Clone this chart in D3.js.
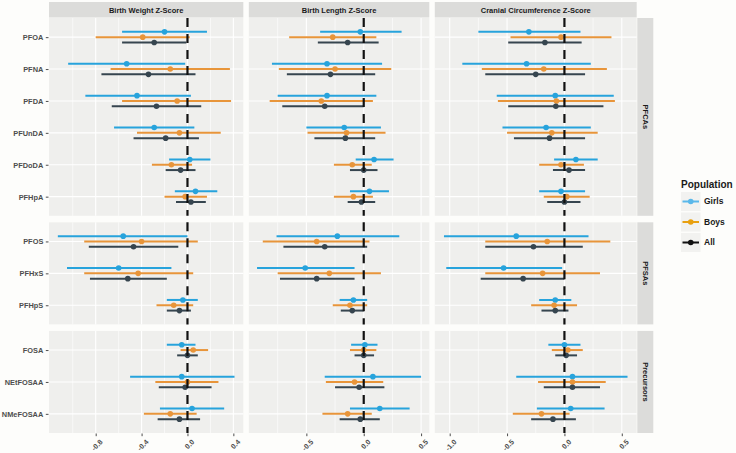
<!DOCTYPE html>
<html lang="en">
<head>
<meta charset="utf-8"/>
<script src="https://cdn.jsdelivr.net/npm/d3@7"></script>
<style>
  body { margin: 0; background: #fdfdfb; }
  text { font-family: "Liberation Sans", Arial, sans-serif; }
</style>
</head>
<body>
<div id="chart"></div>
<script>
// facets
var outcomes = ["Birth Weight Z-Score", "Birth Length Z-Score", "Cranial Circumference Z-Score"];
var groups = ["PFCAs", "PFSAs", "Precursors"];
var pfcas = ["PFOA", "PFNA", "PFDA", "PFUnDA", "PFDoDA", "PFHpA"];
var pfsas = ["PFOS", "PFHxS", "PFHpS"];
var precursors = ["FOSA", "NEtFOSAA", "NMeFOSAA"];
var compounds = pfcas.concat(pfsas, precursors);
var populations = ["Girls", "Boys", "All"];

// tick labels per outcome panel
var weightTicks = [-0.8, -0.4, 0.0, 0.4];
var lengthTicks = [-0.5, 0.0, 0.5];
var cranialTicks = [-1.0, -0.5, 0.0, 0.5];

// [estimate, lower, upper] per compound, in compound order
var weightGirls = [[-0.20,-0.57,0.17],[-0.53,-1.04,-0.02],[-0.44,-0.89,0.03],[-0.29,-0.64,0.06],[0.02,-0.16,0.20],[0.07,-0.11,0.26],
                   [-0.56,-1.13,0.00],[-0.60,-1.05,-0.14],[-0.04,-0.18,0.09],[-0.05,-0.18,0.07],[-0.05,-0.50,0.41],[0.04,-0.24,0.32]];
var weightBoys  = [[-0.39,-0.80,0.02],[-0.15,-0.67,0.37],[-0.09,-0.57,0.38],[-0.07,-0.44,0.29],[-0.14,-0.31,0.04],[-0.02,-0.20,0.17],
                   [-0.40,-0.90,0.09],[-0.43,-0.90,0.05],[-0.12,-0.27,0.05],[0.05,-0.06,0.18],[0.00,-0.28,0.27],[-0.15,-0.38,0.08]];
var weightAll   = [[-0.29,-0.57,-0.01],[-0.34,-0.75,0.07],[-0.27,-0.66,0.12],[-0.19,-0.47,0.10],[-0.06,-0.19,0.07],[0.03,-0.10,0.16],
                   [-0.47,-0.86,-0.08],[-0.52,-0.85,-0.18],[-0.07,-0.18,0.03],[0.00,-0.09,0.09],[-0.02,-0.25,0.21],[-0.07,-0.26,0.11]];

var lengthGirls = [[-0.03,-0.38,0.33],[-0.32,-0.80,0.16],[-0.32,-0.75,0.11],[-0.17,-0.50,0.15],[0.09,-0.07,0.26],[0.05,-0.12,0.22],
                   [-0.23,-0.76,0.31],[-0.51,-0.93,-0.08],[-0.09,-0.21,0.03],[0.01,-0.11,0.12],[0.08,-0.34,0.50],[0.14,-0.12,0.40]];
var lengthBoys  = [[-0.27,-0.65,0.11],[-0.25,-0.74,0.24],[-0.37,-0.82,0.08],[-0.15,-0.49,0.19],[-0.10,-0.26,0.07],[-0.09,-0.26,0.08],
                   [-0.41,-0.88,0.05],[-0.30,-0.75,0.15],[-0.12,-0.27,0.03],[0.00,-0.12,0.11],[-0.08,-0.33,0.17],[-0.14,-0.36,0.07]];
var lengthAll   = [[-0.14,-0.40,0.13],[-0.29,-0.67,0.10],[-0.34,-0.71,0.00],[-0.16,-0.43,0.10],[0.00,-0.12,0.12],[-0.02,-0.14,0.10],
                   [-0.34,-0.70,0.03],[-0.41,-0.73,-0.08],[-0.10,-0.20,0.00],[0.00,-0.08,0.09],[-0.04,-0.25,0.18],[-0.03,-0.21,0.14]];

var cranialGirls = [[-0.31,-0.75,0.14],[-0.33,-0.89,0.23],[-0.08,-0.59,0.43],[-0.16,-0.54,0.23],[0.10,-0.09,0.29],[-0.03,-0.22,0.18],
                    [-0.42,-1.05,0.21],[-0.53,-1.03,-0.02],[-0.08,-0.22,0.06],[0.00,-0.14,0.14],[0.07,-0.42,0.55],[0.055,-0.24,0.35]];
var cranialBoys  = [[-0.03,-0.47,0.41],[-0.18,-0.72,0.37],[-0.07,-0.58,0.44],[-0.11,-0.50,0.29],[-0.03,-0.22,0.17],[0.02,-0.18,0.22],
                    [-0.15,-0.69,0.40],[-0.19,-0.69,0.31],[-0.09,-0.29,0.11],[0.03,-0.11,0.16],[0.07,-0.23,0.36],[-0.20,-0.45,0.045]];
var cranialAll   = [[-0.17,-0.49,0.15],[-0.25,-0.69,0.18],[-0.075,-0.49,0.34],[-0.13,-0.44,0.18],[0.04,-0.10,0.18],[0.00,-0.15,0.14],
                    [-0.27,-0.69,0.16],[-0.36,-0.73,0.00],[-0.08,-0.20,0.035],[0.015,-0.08,0.11],[0.07,-0.18,0.31],[-0.10,-0.29,0.10]];

// colours
var lineColour = {Girls: "#27a3dc", Boys: "#e8953a", All: "#36454f"};
var keyColour = {Girls: "#5ab8ea", Boys: "#e8a010", All: "#111111"};

var w = 736, h = 453;
var plotLeft = 49, plotRight = 636.7, plotTop = 18, plotBottom = 433;
var hGap = 5.5, vGap = 6.5;

var series = [
  {Girls: weightGirls, Boys: weightBoys, All: weightAll, ticks: weightTicks},
  {Girls: lengthGirls, Boys: lengthBoys, All: lengthAll, ticks: lengthTicks},
  {Girls: cranialGirls, Boys: cranialBoys, All: cranialAll, ticks: cranialTicks}
];
var groupCats = [pfcas, pfsas, precursors];

// x domains: data range plus 5% each side (free scales, free space)
series.forEach(function(s) {
  var vals = [];
  populations.forEach(function(p) { s[p].forEach(function(r) { vals.push(r[1], r[2]); }); });
  var ext = d3.extent(vals);
  var pad = (ext[1] - ext[0]) * 0.05;
  s.domain = [ext[0] - pad, ext[1] + pad];
});
var totalUnits = d3.sum(series, function(s) { return s.domain[1] - s.domain[0]; });
var pxPerUnit = (plotRight - plotLeft - 2 * hGap) / totalUnits;
var cursor = plotLeft;
series.forEach(function(s) {
  var width = (s.domain[1] - s.domain[0]) * pxPerUnit;
  s.x = d3.scaleLinear().domain(s.domain).range([cursor, cursor + width]);
  cursor += width + hGap;
});

// y rows, height proportional to category count
var rowUnits = d3.sum(groupCats, function(c) { return c.length + 0.2; });
var pxPerRow = (plotBottom - plotTop - 2 * vGap) / rowUnits;
var rows = [];
var yCursor = plotTop;
groupCats.forEach(function(cats, i) {
  var hh = (cats.length + 0.2) * pxPerRow;
  rows.push({
    name: groups[i], cats: cats, top: yCursor, bottom: yCursor + hh,
    y: d3.scalePoint().domain(cats).range([yCursor, yCursor + hh]).padding(0.6)
  });
  yCursor += hh + vGap;
});

var svg = d3.select("#chart").append("svg")
  .attr("width", w).attr("height", h);

var dodge = {Girls: -1/6, Boys: 0, All: 1/6};

// top strips
series.forEach(function(s, i) {
  var r = s.x.range();
  svg.append("rect").attr("x", r[0]).attr("y", 2).attr("width", r[1] - r[0]).attr("height", 15.5)
    .attr("fill", "#dcdcda");
  svg.append("text").attr("x", (r[0] + r[1]) / 2).attr("y", 12.5)
    .attr("text-anchor", "middle").attr("font-size", 7.5).attr("font-weight", "bold")
    .attr("fill", "#1a1a1a").text(outcomes[i]);
});

// right strips
rows.forEach(function(row) {
  svg.append("rect").attr("x", plotRight + 0.6).attr("y", row.top).attr("width", 16).attr("height", row.bottom - row.top)
    .attr("fill", "#dcdcda");
  var cx = plotRight + 8.6, cy = (row.top + row.bottom) / 2;
  svg.append("text").attr("transform", "translate(" + cx + "," + cy + ")rotate(90)")
    .attr("text-anchor", "middle").attr("dy", "0.35em")
    .attr("font-size", 7.5).attr("font-weight", "bold").attr("fill", "#1a1a1a").text(row.name);
});

// panels
rows.forEach(function(row, ri) {
  series.forEach(function(s, si) {
    var x = s.x, xr = x.range();
    var g = svg.append("g");
    g.append("rect").attr("x", xr[0]).attr("y", row.top).attr("width", xr[1] - xr[0]).attr("height", row.bottom - row.top)
      .attr("fill", "#efefed");
    // minor grid at midpoints between ticks
    var step = s.ticks[1] - s.ticks[0];
    var minor = [];
    for (var v = s.ticks[0] - step / 2; v < s.domain[1]; v += step) {
      if (v > s.domain[0]) minor.push(v);
    }
    g.selectAll(".minor").data(minor).enter().append("line")
      .attr("x1", function(d) { return x(d); }).attr("x2", function(d) { return x(d); })
      .attr("y1", row.top).attr("y2", row.bottom)
      .attr("stroke", "#ffffff").attr("stroke-width", 0.6);
    g.selectAll(".major").data(s.ticks).enter().append("line")
      .attr("x1", function(d) { return x(d); }).attr("x2", function(d) { return x(d); })
      .attr("y1", row.top).attr("y2", row.bottom)
      .attr("stroke", "#ffffff").attr("stroke-width", 1.1);
    g.selectAll(".hgrid").data(row.cats).enter().append("line")
      .attr("x1", xr[0]).attr("x2", xr[1])
      .attr("y1", function(d) { return row.y(d); }).attr("y2", function(d) { return row.y(d); })
      .attr("stroke", "#ffffff").attr("stroke-width", 1.1);

    // error bars and points
    populations.forEach(function(p) {
      var recs = row.cats.map(function(c) {
        var r = s[p][compounds.indexOf(c)];
        return {cat: c, est: r[0], lo: r[1], hi: r[2]};
      });
      var yOf = function(d) { return row.y(d.cat) + dodge[p] * row.y.step(); };
      g.selectAll(".bar" + p).data(recs).enter().append("line")
        .attr("x1", function(d) { return x(d.lo); }).attr("x2", function(d) { return x(d.hi); })
        .attr("y1", yOf).attr("y2", yOf)
        .attr("stroke", lineColour[p]).attr("stroke-width", 2);
      g.selectAll(".pt" + p).data(recs).enter().append("circle")
        .attr("cx", function(d) { return x(d.est); }).attr("cy", yOf).attr("r", 2.8)
        .attr("fill", lineColour[p]);
    });

    // reference line at zero
    g.append("line").attr("x1", x(0)).attr("x2", x(0)).attr("y1", row.top).attr("y2", row.bottom)
      .attr("stroke", "#111").attr("stroke-width", 2.2).attr("stroke-dasharray", "9,7");

    // y axis on first column
    if (si === 0) {
      var yAxis = d3.axisLeft(row.y).tickSize(2.7).tickPadding(2.5);
      var ya = svg.append("g").attr("transform", "translate(" + (xr[0] - 0.5) + ",0)").call(yAxis);
      ya.select(".domain").remove();
      ya.selectAll("line").attr("stroke", "#4d4d4d");
      ya.selectAll("text").attr("font-size", 7.4).attr("font-weight", "bold").attr("fill", "#4d4d4d")
        .attr("font-family", "Liberation Sans, Arial, sans-serif");
    }
    // x axis on bottom row
    if (ri === rows.length - 1) {
      var xAxis = d3.axisBottom(x).tickValues(s.ticks).tickSize(2.7)
        .tickFormat(function(d) { return d.toFixed(1); });
      var xa = svg.append("g").attr("transform", "translate(0," + (row.bottom + 0.5) + ")").call(xAxis);
      xa.select(".domain").remove();
      xa.selectAll("line").attr("stroke", "#4d4d4d");
      xa.selectAll("text").attr("font-size", 7.2).attr("font-weight", "bold").attr("fill", "#4d4d4d")
        .attr("font-family", "Liberation Sans, Arial, sans-serif")
        .attr("text-anchor", "end").attr("dy", null).attr("y", null)
        .attr("transform", "translate(3,5)rotate(-45)")
        .attr("dominant-baseline", "hanging");
    }
  });
});

// legend
var legend = svg.append("g").attr("transform", "translate(681,0)");
legend.append("text").attr("x", 0).attr("y", 188.3).attr("font-size", 10).attr("font-weight", "bold")
  .attr("fill", "#1a1a1a").text("Population");
var keyY = d3.scalePoint().domain(populations).range([201.5, 242.5]);
populations.forEach(function(p) {
  var cy = keyY(p);
  legend.append("rect").attr("x", 0).attr("y", cy - 9.5).attr("width", 19.5).attr("height", 19)
    .attr("fill", "#f2f2f0");
  legend.append("line").attr("x1", 1.5).attr("x2", 18).attr("y1", cy).attr("y2", cy)
    .attr("stroke", keyColour[p]).attr("stroke-width", 2);
  legend.append("circle").attr("cx", 9.75).attr("cy", cy).attr("r", 2.8).attr("fill", keyColour[p]);
  legend.append("text").attr("x", 23).attr("y", cy).attr("dy", "0.35em")
    .attr("font-size", 8.5).attr("font-weight", "bold").attr("fill", "#1a1a1a").text(p);
});
</script>
</body>
</html>
